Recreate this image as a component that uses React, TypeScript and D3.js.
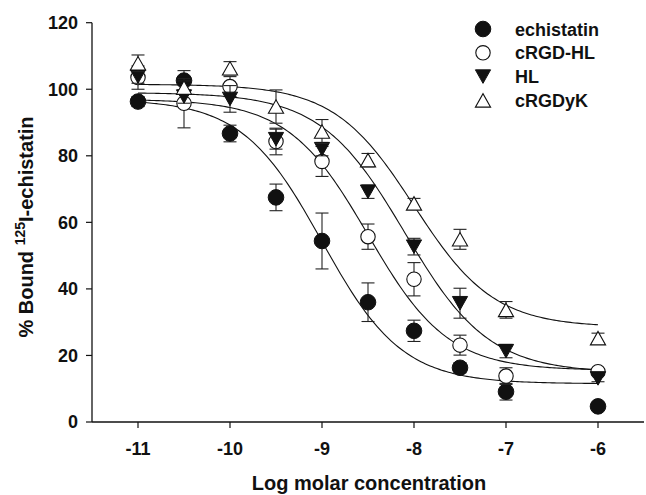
import React from "react";
import * as d3 from "d3";

const W = 646;
const H = 495;

const xTicks = [-11, -10, -9, -8, -7, -6];
const yTicks = [0, 20, 40, 60, 80, 100, 120];
const logConc = [-11, -10.5, -10, -9.5, -9, -8.5, -8, -7.5, -7, -6];

const seriesNames = ["echistatin", "cRGD-HL", "HL", "cRGDyK"];
const echistatin = [96.3, 102.6, 86.7, 67.5, 54.4, 36.0, 27.4, 16.3, 9.1, 4.7];
const echistatinErr = [1.5, 3, 2.5, 4, 8.4, 5.8, 3.2, 1.5, 2.5, 0.8];
const cRGDHL = [103.5, 95.8, 100.8, 84.3, 78.3, 55.7, 42.9, 23.1, 13.8, 15.1];
const cRGDHLErr = [3.5, 7.4, 3, 4, 4.5, 3.8, 5, 3, 2.5, 1];
const HL = [103.8, 97.8, 97.1, 85.0, 82.0, 69.2, 52.7, 35.7, 21.3, 13.1];
const HLErr = [2, 2, 4, 3, 2, 2, 2.5, 4.5, 2, 1];
const cRGDyK = [107.8, 100.5, 106.3, 94.8, 87.3, 78.7, 65.7, 54.9, 33.7, 25.2];
const cRGDyKErr = [2.5, 2, 2, 5, 3.6, 2, 1.5, 3, 2.5, 1.5];

// four-parameter logistic fit parameters (one per series)
const fitTop = [97, 97, 99, 101.5];
const fitBottom = [11.5, 15.5, 14.8, 28.5];
const fitLogIC50 = [-9.0, -8.5, -8.1, -8.0];
const fitHill = [1, 1, 0.95, 1];
const fitRange = [-11, -6];

const values = [echistatin, cRGDHL, HL, cRGDyK];
const errors = [echistatinErr, cRGDHLErr, HLErr, cRGDyKErr];
const markers = ["filledCircle", "openCircle", "filledDown", "openUp"];

const FONT = "'Liberation Sans', Arial, Helvetica, sans-serif";

const x = d3.scaleLinear().domain([-11.5, -5.5]).range([92, 644]);
const y = d3.scaleLinear().domain([0, 120]).range([422, 22.7]);

function logistic(i: number, lx: number) {
  return (
    fitBottom[i] +
    (fitTop[i] - fitBottom[i]) /
      (1 + Math.pow(10, fitHill[i] * (lx - fitLogIC50[i])))
  );
}

function Marker({ kind, cx, cy }: { kind: string; cx: number; cy: number }) {
  if (kind === "filledCircle")
    return <circle cx={cx} cy={cy} r={7.8} fill="#111" stroke="#111" strokeWidth={1} />;
  if (kind === "openCircle")
    return <circle cx={cx} cy={cy} r={7.2} fill="#fff" stroke="#111" strokeWidth={1.1} />;
  const w = 7.6;
  const h = 13.5;
  if (kind === "filledDown") {
    const d = `M${cx - w},${cy - h / 2}L${cx + w},${cy - h / 2}L${cx},${cy + h / 2}Z`;
    return <path d={d} fill="#111" stroke="#111" strokeWidth={1} />;
  }
  const d = `M${cx - w},${cy + h / 2}L${cx + w},${cy + h / 2}L${cx},${cy - h / 2}Z`;
  return <path d={d} fill="#fff" stroke="#111" strokeWidth={1.1} />;
}

export default function App() {
  const samples = d3.range(0, 201).map(
    (k) => fitRange[0] + ((fitRange[1] - fitRange[0]) * k) / 200
  );
  const curves = seriesNames.map((_, i) =>
    d3
      .line<number>()
      .x((d) => x(d))
      .y((d) => y(logistic(i, d)))(samples)
  );

  return (
    <svg
      width={W}
      height={H}
      style={{ position: "absolute", left: 0, top: 0, background: "#fff" }}
      fontFamily={FONT}
    >
      <rect x={0} y={0} width={W} height={H} fill="#fff" />
      {curves.map((d, i) => (
        <path key={i} d={d || ""} fill="none" stroke="#111" strokeWidth={1.1} />
      ))}
      {values.map((vals, i) => (
        <g key={i}>
          {vals.map((v, j) => {
            const cx = x(logConc[j]);
            const e = errors[i][j];
            const y1 = y(v + e);
            const y2 = y(v - e);
            return (
              <g key={j} stroke="#222" strokeWidth={1.1}>
                <line x1={cx} x2={cx} y1={y1} y2={y2} />
                <line x1={cx - 6.5} x2={cx + 6.5} y1={y1} y2={y1} />
                <line x1={cx - 6.5} x2={cx + 6.5} y1={y2} y2={y2} />
              </g>
            );
          })}
          {vals.map((v, j) => (
            <Marker key={"m" + j} kind={markers[i]} cx={x(logConc[j])} cy={y(v)} />
          ))}
        </g>
      ))}
      <line x1={x(-11.5)} x2={644} y1={y(0)} y2={y(0)} stroke="#111" strokeWidth={1.3} />
      <line x1={x(-11.5)} x2={x(-11.5)} y1={y(0)} y2={y(120)} stroke="#111" strokeWidth={1.3} />
      {yTicks.map((t) => (
        <g key={t}>
          <line x1={86} x2={x(-11.5)} y1={y(t)} y2={y(t)} stroke="#111" strokeWidth={1.2} />
          <text
            x={78}
            y={y(t)}
            dy="0.36em"
            textAnchor="end"
            fontSize={18}
            fontWeight="bold"
            fill="#111"
          >
            {t}
          </text>
        </g>
      ))}
      {xTicks.map((t) => (
        <g key={t}>
          <line x1={x(t)} x2={x(t)} y1={y(0)} y2={y(0) + 6} stroke="#111" strokeWidth={1.2} />
          <text x={x(t)} y={455} textAnchor="middle" fontSize={18} fontWeight="bold" fill="#111">
            {t}
          </text>
        </g>
      ))}
      <text x={369} y={490} textAnchor="middle" fontSize={20} fontWeight="bold" fill="#111">
        Log molar concentration
      </text>
      <text
        transform="translate(33,227) rotate(-90)"
        textAnchor="middle"
        fontSize={20}
        fontWeight="bold"
        fill="#111"
      >
        % Bound <tspan fontSize={14} dy={-8}>125</tspan>
        <tspan dy={8}>I-echistatin</tspan>
      </text>
      {seriesNames.map((name, i) => {
        const cy = 29 + i * 23.8;
        return (
          <g key={name}>
            <Marker kind={markers[i]} cx={483} cy={cy} />
            <text x={515} y={cy + 6.5} fontSize={18} fontWeight="bold" fill="#111">
              {name}
            </text>
          </g>
        );
      })}
    </svg>
  );
}
